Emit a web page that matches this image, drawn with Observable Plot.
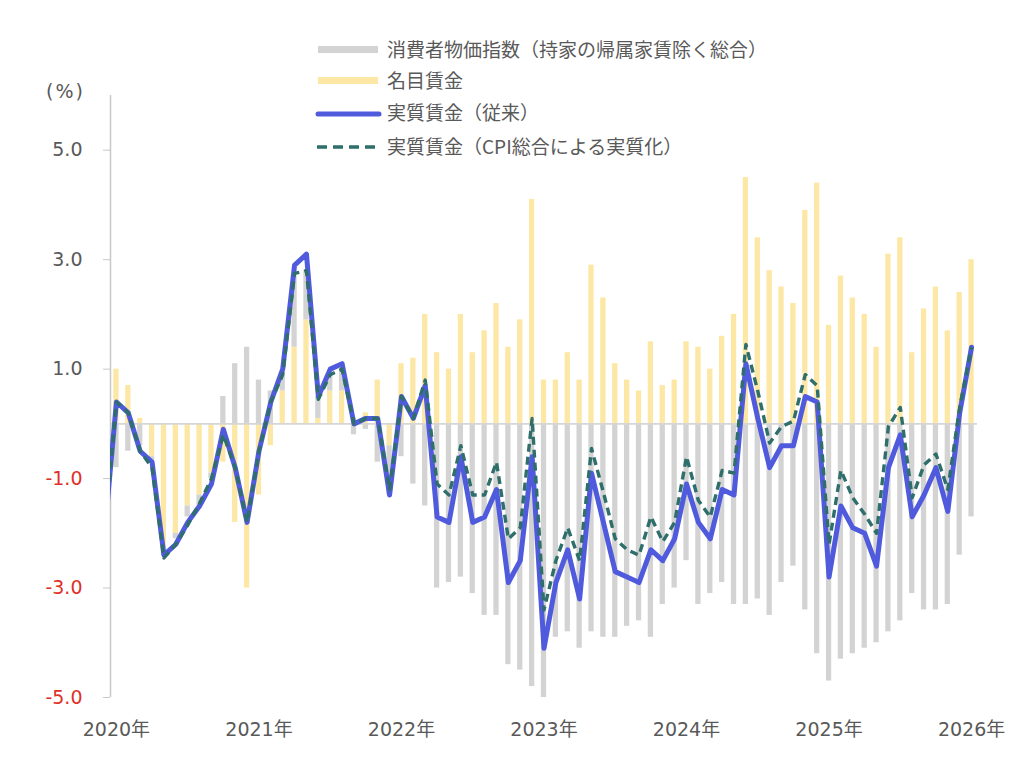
<!DOCTYPE html>
<html>
<head>
<meta charset="utf-8">
<script src="https://cdn.jsdelivr.net/npm/d3@7"></script>
<script src="https://cdn.jsdelivr.net/npm/@observablehq/plot@0.6"></script>
<style>
  html, body { margin: 0; padding: 0; background: #fff; overflow: hidden; }
  #wrap { position: relative; width: 1035px; height: 761px; font-family: "DejaVu Sans", "Noto Sans CJK JP", sans-serif; color: #595959; }
  #chart { position: absolute; left: 0; top: 0; }
  .item { position: absolute; left: 315px; height: 30px; display: flex; align-items: center; font-size: 19px; white-space: nowrap; }
  .item svg { width: 68px; height: 30px; margin-right: 4px; }
  .item span { font-family: "Noto Sans CJK JP", sans-serif; }
  #unit { position: absolute; left: 46px; top: 80px; font-size: 19px; letter-spacing: 2px; font-family: "DejaVu Sans", "Noto Sans CJK JP", sans-serif; }
</style>
</head>
<body>
<div id="wrap">
  <div id="chart"></div>
  <div id="unit">(%)</div>
  <div id="legend"></div>
</div>
<script>
// ---- Data (monthly, index 0 = 2020年1月 ... 72 = 2026年1月) ----
const seriesNames = ["消費者物価指数（持家の帰属家賃除く総合）", "名目賃金", "実質賃金（従来）", "実質賃金（CPI総合による実質化）"];

// 名目賃金 (yellow bars)
const nominalWage = [
  1.0, 0.7, 0.1, -0.6, -2.3, -2.0, -1.5, -1.3, -0.9, -0.7, -1.8, -3.0,
  -1.3, -0.4, 0.6, 1.4, 1.9, 0.1, 0.6, 0.6, 0.1, 0.2, 0.8, -0.4,
  1.1, 1.2, 2.0, 1.3, 1.0, 2.0, 1.3, 1.7, 2.2, 1.4, 1.9, 4.1,
  0.8, 0.8, 1.3, 0.8, 2.9, 2.3, 1.1, 0.8, 0.6, 1.5, 0.7, 0.8,
  1.5, 1.4, 1.0, 1.6, 2.0, 4.5, 3.4, 2.8, 2.5, 2.2, 3.9, 4.4,
  1.8, 2.7, 2.3, 2.0, 1.4, 3.1, 3.4, 1.3, 2.1, 2.5, 1.7, 2.4,
  3.0
];

// 消費者物価指数（持家の帰属家賃除く総合）contribution (gray bars, sign reversed)
const cpiContribution = [
  -0.8, -0.5, -0.4, -0.1, -0.1, -0.1, -0.2, -0.2, -0.1, 0.5, 1.1, 1.4,
  0.8, 0.6, 0.3, 1.3, 0.9, 0.4, 0.3, 0.4, -0.2, -0.1, -0.7, -0.9,
  -0.6, -1.1, -1.5, -3.0, -2.9, -2.8, -3.1, -3.5, -3.5, -4.4, -4.5, -4.8,
  -5.0, -3.9, -3.8, -4.1, -3.8, -3.9, -3.9, -3.7, -3.6, -3.9, -3.3, -3.0,
  -2.5, -3.3, -3.1, -2.9, -3.3, -3.3, -3.2, -3.5, -2.9, -2.6, -3.4, -4.2,
  -4.7, -4.3, -4.2, -4.1, -4.0, -3.8, -3.6, -3.1, -3.4, -3.4, -3.3, -2.4,
  -1.7
];

// line series start one month earlier (2019年12月, index -1), cut off by the axis
const lineStartIndex = -1;
// 実質賃金（従来）
const realWageOld = [
  -2.0,
  0.4, 0.2, -0.5, -0.7, -2.4, -2.2, -1.8, -1.5, -1.1, -0.1, -0.8, -1.8,
  -0.5, 0.4, 1.0, 2.9, 3.1, 0.5, 1.0, 1.1, 0.0, 0.1, 0.1, -1.3,
  0.5, 0.1, 0.7, -1.7, -1.8, -0.6, -1.8, -1.7, -1.2, -2.9, -2.5, -0.6,
  -4.1, -2.9, -2.3, -3.2, -0.9, -1.8, -2.7, -2.8, -2.9, -2.3, -2.5, -2.1,
  -1.1, -1.8, -2.1, -1.2, -1.3, 1.1, 0.1, -0.8, -0.4, -0.4, 0.5, 0.4,
  -2.8, -1.5, -1.9, -2.0, -2.6, -0.8, -0.2, -1.7, -1.3, -0.8, -1.6, 0.2,
  1.4
];
// 実質賃金（CPI総合による実質化）
const realWageCpi = [
  -2.0,
  0.4, 0.2, -0.5, -0.8, -2.45, -2.2, -1.85, -1.45, -1.0, -0.2, -0.8, -1.8,
  -0.5, 0.4, 0.9, 2.75, 2.8, 0.45, 0.9, 1.0, 0.0, 0.1, 0.1, -1.2,
  0.5, 0.1, 0.8, -1.1, -1.3, -0.4, -1.3, -1.3, -0.7, -2.1, -1.9, 0.1,
  -3.4, -2.5, -1.9, -2.5, -0.45, -1.25, -2.1, -2.3, -2.4, -1.7, -2.15, -1.8,
  -0.6, -1.4, -1.7, -0.85, -0.9, 1.45, 0.6, -0.35, -0.05, 0.05, 0.9, 0.7,
  -2.2, -0.85, -1.35, -1.65, -2.0, -0.05, 0.3, -1.35, -0.75, -0.55, -1.2, 0.3,
  1.4
];

const yearTickIndex = [0, 12, 24, 36, 48, 60, 72];
const yearLabels = ["2020年", "2021年", "2022年", "2023年", "2024年", "2025年", "2026年"];
const yTicksPositive = [1, 3, 5];
const yTicksNegative = [-5, -3, -1];
const yDomain = [-5, 6];

// ---- Colors ----
const colGray = "#d3d3d3";
const colYellow = "#fde7a4";
const colBlue = "#4f5bdc";
const colTeal = "#2f6f6b";
const colText = "#595959";
const colRed = "#e0302a";
const colAxis = "#c8c8c8";

// ---- Build tables ----
const N = nominalWage.length;
const xDomain = [-0.5, N - 0.5];
const bars = [];
for (let i = 0; i < N; i++) {
  bars.push({i, series: seriesNames[1], value: nominalWage[i]});
  bars.push({i, series: seriesNames[0], value: cpiContribution[i]});
}
const lines = realWageOld.map((v, k) => ({i: k + lineStartIndex, old: v, cpi: realWageCpi[k]}));

const chart = Plot.plot({
  width: 1035,
  height: 761,
  marginLeft: 110,
  marginRight: 58,
  marginTop: 95,
  marginBottom: 64,
  style: {fontFamily: '"DejaVu Sans", "Noto Sans CJK JP", sans-serif', fontSize: "19px", color: colText, background: "transparent"},
  x: {domain: xDomain, axis: null},
  y: {domain: yDomain, axis: null},
  color: {domain: [seriesNames[1], seriesNames[0]], range: [colYellow, colGray]},
  marks: [
    Plot.rectY(bars, Plot.stackY({
      x: "i",
      x1: d => d.i - 0.5,
      x2: d => d.i + 0.5,
      y: "value",
      z: "series",
      fill: "series",
      order: [seriesNames[1], seriesNames[0]],
      insetLeft: 3.3,
      insetRight: 3.3
    })),
    Plot.ruleY([0], {stroke: "#d6d6d6", strokeWidth: 1.6}),
    Plot.ruleX([xDomain[0]], {stroke: colAxis, strokeWidth: 1.5}),
    Plot.axisY(yTicksPositive, {anchor: "left", tickSize: 7, tickPadding: 21, tickFormat: d => d.toFixed(1), stroke: colAxis, fill: colText, label: null, fontSize: 19}),
    Plot.axisY(yTicksNegative, {anchor: "left", tickSize: 7, tickPadding: 21, tickFormat: d => d.toFixed(1), stroke: colAxis, fill: colRed, label: null, fontSize: 19}),
    Plot.axisX(yearTickIndex, {anchor: "bottom", tickSize: 0, tickPadding: 25, tickFormat: d => yearLabels[yearTickIndex.indexOf(d)], fill: colText, label: null, fontSize: 19}),
    Plot.line(lines, {x: "i", y: "old", stroke: colBlue, strokeWidth: 5, clip: true}),
    Plot.line(lines, {x: "i", y: "cpi", stroke: colTeal, strokeWidth: 3.4, strokeDasharray: "8,5", strokeLinecap: "butt", clip: true})
  ]
});
document.getElementById("chart").appendChild(chart);

// ---- Legend ----
const legendRows = [
  {name: seriesNames[0], top: 33, swatch: `<rect x="3" y="13" width="60" height="7" fill="${colGray}"/>`},
  {name: seriesNames[1], top: 64, swatch: `<rect x="3" y="13" width="60" height="7" fill="${colYellow}"/>`},
  {name: seriesNames[2], top: 96, swatch: `<line x1="3" y1="18" x2="64" y2="18" stroke="${colBlue}" stroke-width="5" stroke-linecap="round"/>`},
  {name: seriesNames[3], top: 130, swatch: `<line x1="2" y1="17" x2="65" y2="17" stroke="${colTeal}" stroke-width="3.4" stroke-dasharray="10,6"/>`}
];
const leg = document.getElementById("legend");
for (const r of legendRows) {
  const div = document.createElement("div");
  div.className = "item";
  div.style.top = r.top + "px";
  div.innerHTML = `<svg viewBox="0 0 68 30">${r.swatch}</svg><span>${r.name}</span>`;
  leg.appendChild(div);
}
</script>
</body>
</html>
